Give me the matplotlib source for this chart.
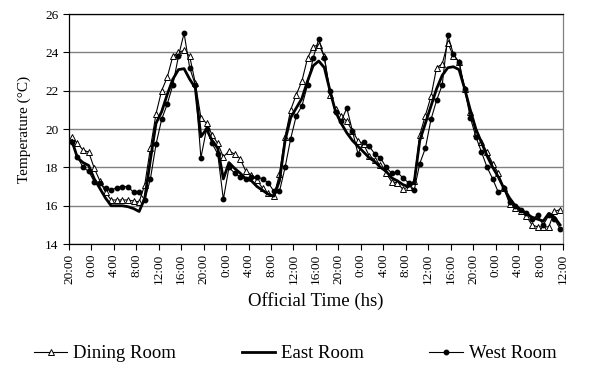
import numpy as np
import matplotlib
matplotlib.use("Agg")
import matplotlib.pyplot as plt

plt.rcParams['font.family'] = ['Liberation Serif', 'DejaVu Serif']

# hourly readings, starting 20:00 of day 1 (88 hours)
dining = [19.6, 19.25, 18.9, 18.8, 17.95, 17.3, 16.7, 16.3, 16.3, 16.3,
          16.3, 16.25, 16.2, 17.1, 19.0, 20.8, 22.0, 22.7, 23.8, 24.0,
          24.1, 23.8, 22.4, 20.6, 20.3, 19.7, 19.25, 18.55, 18.85, 18.7,
          18.45, 17.8, 17.6, 17.35, 16.9, 16.65, 16.5, 17.65, 19.6, 21.0,
          21.8, 22.5, 23.7, 24.3, 24.4, 23.8, 21.8, 21.05, 20.7, 20.4,
          19.9, 19.4, 19.2, 18.6, 18.4, 18.1, 17.7, 17.25, 17.2, 16.85,
          17.0, 17.3, 19.7, 20.7, 21.7, 23.2, 23.4, 24.5, 23.8, 23.5,
          22.1, 20.9, 19.8, 19.3, 18.8, 18.2, 17.7, 16.9, 16.1, 15.9,
          15.7, 15.45, 15.0, 14.9, 14.9, 14.9, 15.7, 15.8]

east = [19.4, 18.5, 18.25, 18.1, 17.4, 16.9, 16.4, 16.0, 16.0, 16.0,
        15.95, 15.85, 15.7, 16.4, 18.4, 20.3, 20.9, 21.8, 22.6, 23.1,
        23.15, 22.6, 22.15, 19.6, 20.0, 19.4, 19.0, 17.4, 18.25, 17.95,
        17.7, 17.4, 17.3, 17.0, 16.8, 16.6, 16.5, 17.3, 19.4, 20.6,
        21.1, 21.6, 22.5, 23.3, 23.55, 23.2, 22.0, 20.9, 20.3, 19.8,
        19.4, 19.1, 18.8, 18.5, 18.3, 18.0, 17.8, 17.45, 17.3, 17.1,
        17.0, 17.2, 19.4, 20.3, 21.2, 22.1, 22.8, 23.2, 23.25, 23.1,
        22.1, 21.0, 20.0, 19.3, 18.6, 18.0, 17.5, 16.9, 16.4, 16.0,
        15.8, 15.6, 15.4, 15.3, 15.2, 15.6, 15.4, 15.0]

west = [19.3, 18.55, 18.0, 17.8, 17.25, 17.2, 16.9, 16.8, 16.95, 17.0,
        17.0, 16.7, 16.7, 16.3, 17.4, 19.2, 20.5, 21.3, 22.3, 23.8,
        25.0, 23.2, 22.3, 18.5, 20.0, 19.25, 18.7, 16.33, 18.0, 17.7,
        17.5, 17.4, 17.5, 17.5, 17.4, 17.2, 16.75, 16.75, 18.0, 19.5,
        20.7, 21.2, 22.3, 23.7, 24.7, 23.7, 22.0, 20.9, 20.4, 21.1,
        19.9, 18.7, 19.35, 19.1, 18.7, 18.5, 18.0, 17.7, 17.75, 17.45,
        17.2, 16.8, 18.2, 19.0, 20.5, 21.5, 22.3, 24.9, 23.9, 23.5,
        22.1, 20.6, 19.6, 18.8, 18.0, 17.4, 16.7, 16.9, 16.2, 16.0,
        15.8, 15.6, 15.3, 15.5, 15.0, 15.5, 15.3, 14.8]

tick_labels = ["20:00", "0:00", "4:00", "8:00", "12:00", "16:00"] * 3 + \
              ["20:00", "0:00", "4:00", "8:00", "12:00"]

hours = np.arange(len(dining)) + 0.5

fig = plt.figure(figsize=(5.9, 3.79), dpi=100)
ax = fig.add_axes([0.117, 0.356, 0.837, 0.607])

ax.plot(hours, dining, color='black', lw=0.8, marker='^', ms=4.5,
        mfc='white', mec='black', mew=0.7, label='Dining Room')
ax.plot(hours, east, color='black', lw=2.0, label='East Room')
ax.plot(hours, west, color='black', lw=0.8, marker='o', ms=3.2,
        label='West Room')

ax.set_xlim(0, 88)
ax.set_ylim(14, 26)
ax.set_yticks(range(14, 27, 2))
ax.set_xticks(range(0, 89, 4))
ax.set_xticklabels(tick_labels, rotation=90, fontsize=9.5)
ax.tick_params(axis='y', labelsize=9.5, direction='out', length=4)
ax.tick_params(axis='x', direction='out', length=4, pad=3)
ax.yaxis.grid(True, color='#808080', lw=1)
ax.set_axisbelow(True)
for s in ax.spines.values():
    s.set_linewidth(0.9)
ax.spines['right'].set_color('#808080')

ax.set_ylabel('Temperature (°C)', fontsize=11, labelpad=10)
ax.set_xlabel('Official Time (hs)', fontsize=13.5, labelpad=6)

fig.legend(loc='lower center', bbox_to_anchor=(0.5, 0.0), ncol=3,
           frameon=False, fontsize=13.5, handlelength=1.8, columnspacing=3.5,
           handletextpad=0.3)

fig.savefig('out.png', dpi=100)
